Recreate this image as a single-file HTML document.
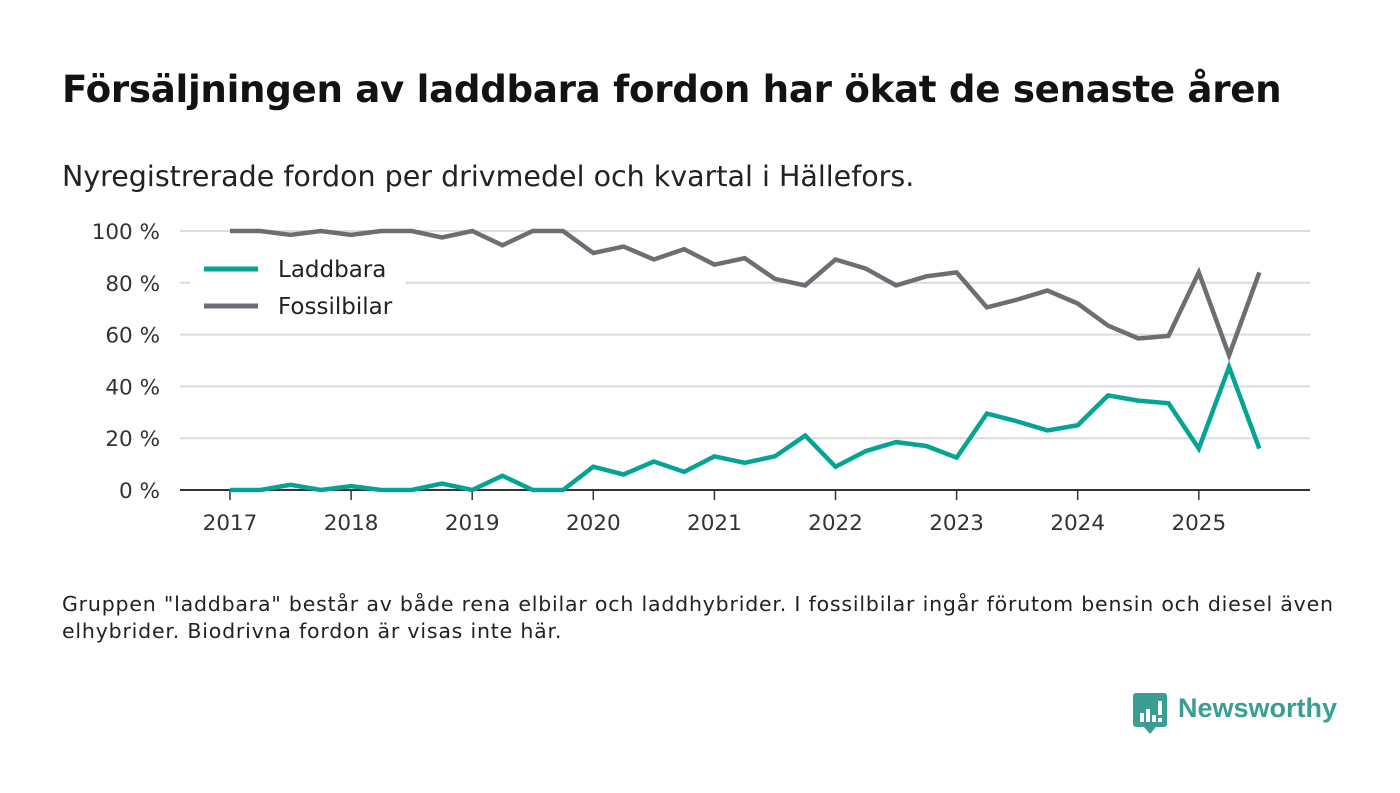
<!DOCTYPE html>
<html><head><meta charset="utf-8"><style>
body{margin:0;background:#fff;font-family:"DejaVu Sans","Liberation Sans",sans-serif;}
#wrap{position:relative;width:1400px;height:793px;overflow:hidden;}
h1{position:absolute;left:62px;top:67px;margin:0;font-size:37.2px;font-weight:bold;color:#121212;letter-spacing:-0.3px;white-space:nowrap;}
.sub{position:absolute;left:62px;top:160px;font-size:28.5px;color:#222;white-space:nowrap;}
.foot{position:absolute;left:62px;top:591px;font-size:20.5px;letter-spacing:0.8px;color:#222;line-height:27px;width:1330px;white-space:nowrap;}
</style></head><body><div id="wrap">
<h1>Försäljningen av laddbara fordon har ökat de senaste åren</h1>
<div class="sub">Nyregistrerade fordon per drivmedel och kvartal i Hällefors.</div>
<svg id="chart" width="1400" height="793" style="position:absolute;left:0;top:0"></svg>
<div class="foot">Gruppen "laddbara" består av både rena elbilar och laddhybrider. I fossilbilar ingår förutom bensin och diesel även<br>elhybrider. Biodrivna fordon är visas inte här.</div>
<div style="position:absolute;left:1133px;top:692px;">
<svg width="34" height="42" style="position:absolute;left:0;top:1px"><path d="M3 0h28a3 3 0 0 1 3 3v28a3 3 0 0 1-3 3H23l-6 7-6-7H3a3 3 0 0 1-3-3V3a3 3 0 0 1 3-3z" fill="#3a9e95"/><rect x="7" y="20" width="4" height="9" fill="#fff"/><rect x="13" y="16" width="4" height="13" fill="#fff"/><rect x="19" y="22" width="4" height="7" fill="#fff"/><rect x="25" y="8" width="4" height="14" fill="#fff"/><rect x="25" y="25" width="4" height="4" fill="#fff"/></svg>
<span style="position:absolute;left:45px;top:1px;font-family:'Liberation Sans',sans-serif;font-weight:bold;font-size:27px;color:#3a9e95;white-space:nowrap;">Newsworthy</span>
</div>
</div>
<script>
const years=[2017,2018,2019,2020,2021,2022,2023,2024,2025];
const yTicks=[0,20,40,60,80,100];
const laddbara=[0,0,2,0,1.5,0,0,2.5,0,5.5,0,0,9,6,11,7,13,10.5,13,21,9,15,18.5,17,12.5,29.5,26.5,23,25,36.5,34.5,33.5,16,47.5,16];
const fossil=[100,100,98.5,100,98.5,100,100,97.5,100,94.5,100,100,91.5,94,89,93,87,89.5,81.5,79,89,85.5,79,82.5,84,70.5,73.5,77,72,63.5,58.5,59.5,84,52,84];
const NS="http://www.w3.org/2000/svg";
const svg=document.getElementById('chart');
const x0=230,yr=121.1,yb=490,yt=231;
const xq=i=>x0+i*yr/4;
const xy=yv=>x0+(yv-2017)*yr;
const yv=v=>yb-(v/100)*(yb-yt);
function mk(t,a){const e=document.createElementNS(NS,t);for(const k in a)e.setAttribute(k,a[k]);svg.appendChild(e);return e;}
yTicks.forEach(t=>{
  if(t>0){const g=mk('line',{x1:180,x2:1310,y1:yv(t),y2:yv(t),stroke:'#dcdcdc','stroke-width':2});
  
  }
  const l=mk('text',{x:160,y:yv(t)+8,'text-anchor':'end','font-size':21.5,fill:'#333','font-family':'DejaVu Sans,Liberation Sans,sans-serif'});
  l.textContent=t+' %';
  
  
});
const ax=mk('line',{x1:180,x2:1310,y1:yb,y2:yb,stroke:'#333','stroke-width':2});


years.forEach(y=>{
  const tk=mk('line',{x1:xy(y),x2:xy(y),y1:yb,y2:yb+10,stroke:'#333','stroke-width':1.5});
  
  
  const l=mk('text',{x:xy(y),y:530,'text-anchor':'middle','font-size':21.5,fill:'#333','font-family':'DejaVu Sans,Liberation Sans,sans-serif'});
  l.textContent=y;
  
  
});
const lb=mk('rect',{x:190,y:250,width:215,height:80,fill:'#fff'});


function series(arr,col,name){
  const p=mk('polyline',{points:arr.map((v,i)=>xq(i)+','+yv(v)).join(' '),fill:'none',stroke:col,'stroke-width':4.5,'stroke-linejoin':'miter'});
  
  
}
series(fossil,'#6e6d74','fossilbilar-line');
series(laddbara,'#04a494','laddbara-line');
[['Laddbara','#04a494',269],['Fossilbilar','#6e6d74',306]].forEach(([n,c,y])=>{
  const s=mk('line',{x1:204,x2:258,y1:y,y2:y,stroke:c,'stroke-width':5});
  
  
  const t=mk('text',{x:278,y:y+8,'font-size':23,fill:'#222','font-family':'DejaVu Sans,Liberation Sans,sans-serif'});
  t.textContent=n;
  
  
});
</script>
</body></html>
